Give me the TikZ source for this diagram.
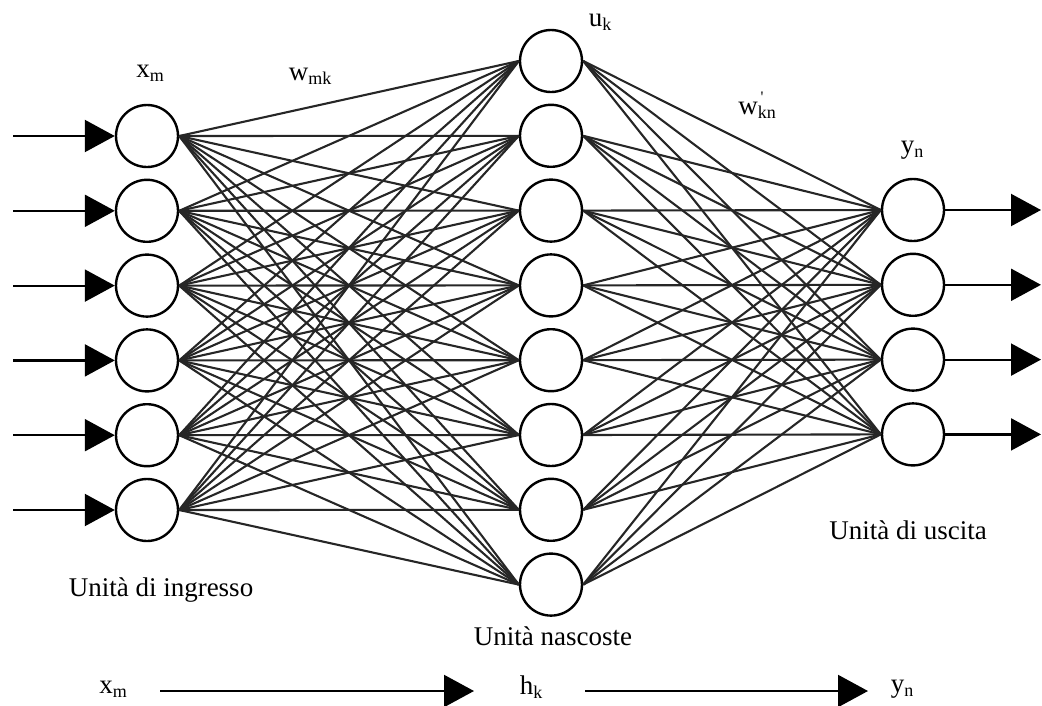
\documentclass[tikz,border=0pt]{standalone}
\usepackage{fontspec}
\setmainfont{Liberation Serif}
\usetikzlibrary{arrows.meta}
\newcommand{\lbsub}[2]{#1\raisebox{-0.35ex}{\fontsize{18}{18}\selectfont #2}}
\begin{document}
\begin{tikzpicture}[x=1pt,y=-1pt,
  neuron/.style={draw,circle,minimum size=62pt,inner sep=0pt,line width=2.4pt},
  conn/.style={line width=2.1pt,draw=black!85},
  bigarrow/.style={line width=2.2pt,-{Triangle[length=30pt,width=32pt]}},
  lab/.style={font=\fontsize{27}{30}\selectfont,inner sep=0pt}]
\useasboundingbox (0,0) rectangle (1042,705);
% nodes
\foreach \i in {1,...,6} \node[neuron] (i\i) at (147,{136+74.8*(\i-1)}) {};
\foreach \j in {1,...,8} \node[neuron] (h\j) at (551,{61+74.8*(\j-1)}) {};
\foreach \k in {1,...,4} \node[neuron] (o\k) at (913,{210+74.8*(\k-1)}) {};
% connections
\foreach \i in {1,...,6} \foreach \j in {1,...,8} \draw[conn] (i\i.east) -- (h\j.west);
\foreach \j in {1,...,8} \foreach \k in {1,...,4} \draw[conn] (h\j.east) -- (o\k.west);
% input / output arrows
\foreach \i in {1,...,6} {
  \coordinate (in\i) at (13,{136+74.8*(\i-1)});
  \draw[bigarrow] (in\i) -- (i\i.west);
}
\foreach \k in {1,...,4} {
  \coordinate (out\k) at (1041,{210+74.8*(\k-1)});
  \draw[bigarrow] (o\k.east) -- (out\k);
}
% labels
\node[lab] (lxm) at (150,73) {\lbsub{x}{m}};
\node[lab] (lwmk) at (310,76) {\lbsub{w}{mk}};
\node[lab] (luk) at (600,22) {\lbsub{u}{k}};
\node[lab] (lwkn) at (757,110) {w\raisebox{-0.35ex}{\fontsize{18}{18}\selectfont kn}};
\node[font=\fontsize{16}{16}\selectfont,inner sep=0pt] (lprime) at (762,97) {\textquotesingle};
\node[lab] (lyn) at (912,150) {\lbsub{y}{n}};
\node[lab] (lin) at (161,590) {Unità di ingresso};
\node[lab] (lout) at (908,530) {Unità di uscita};
\node[lab] (lhid) at (553,636) {Unità nascoste};
% bottom flow
\node[lab] (bx) at (113,689) {\lbsub{x}{m}};
\node[lab] (bh) at (531,687) {\lbsub{h}{k}};
\node[lab] (by) at (902,689) {\lbsub{y}{n}};
\coordinate (a1s) at (160,691);
\coordinate (a1e) at (474,691);
\coordinate (a2s) at (585,691);
\coordinate (a2e) at (868,691);
\draw[bigarrow] (a1s) -- (a1e);
\draw[bigarrow] (a2s) -- (a2e);
\end{tikzpicture}
\end{document}
